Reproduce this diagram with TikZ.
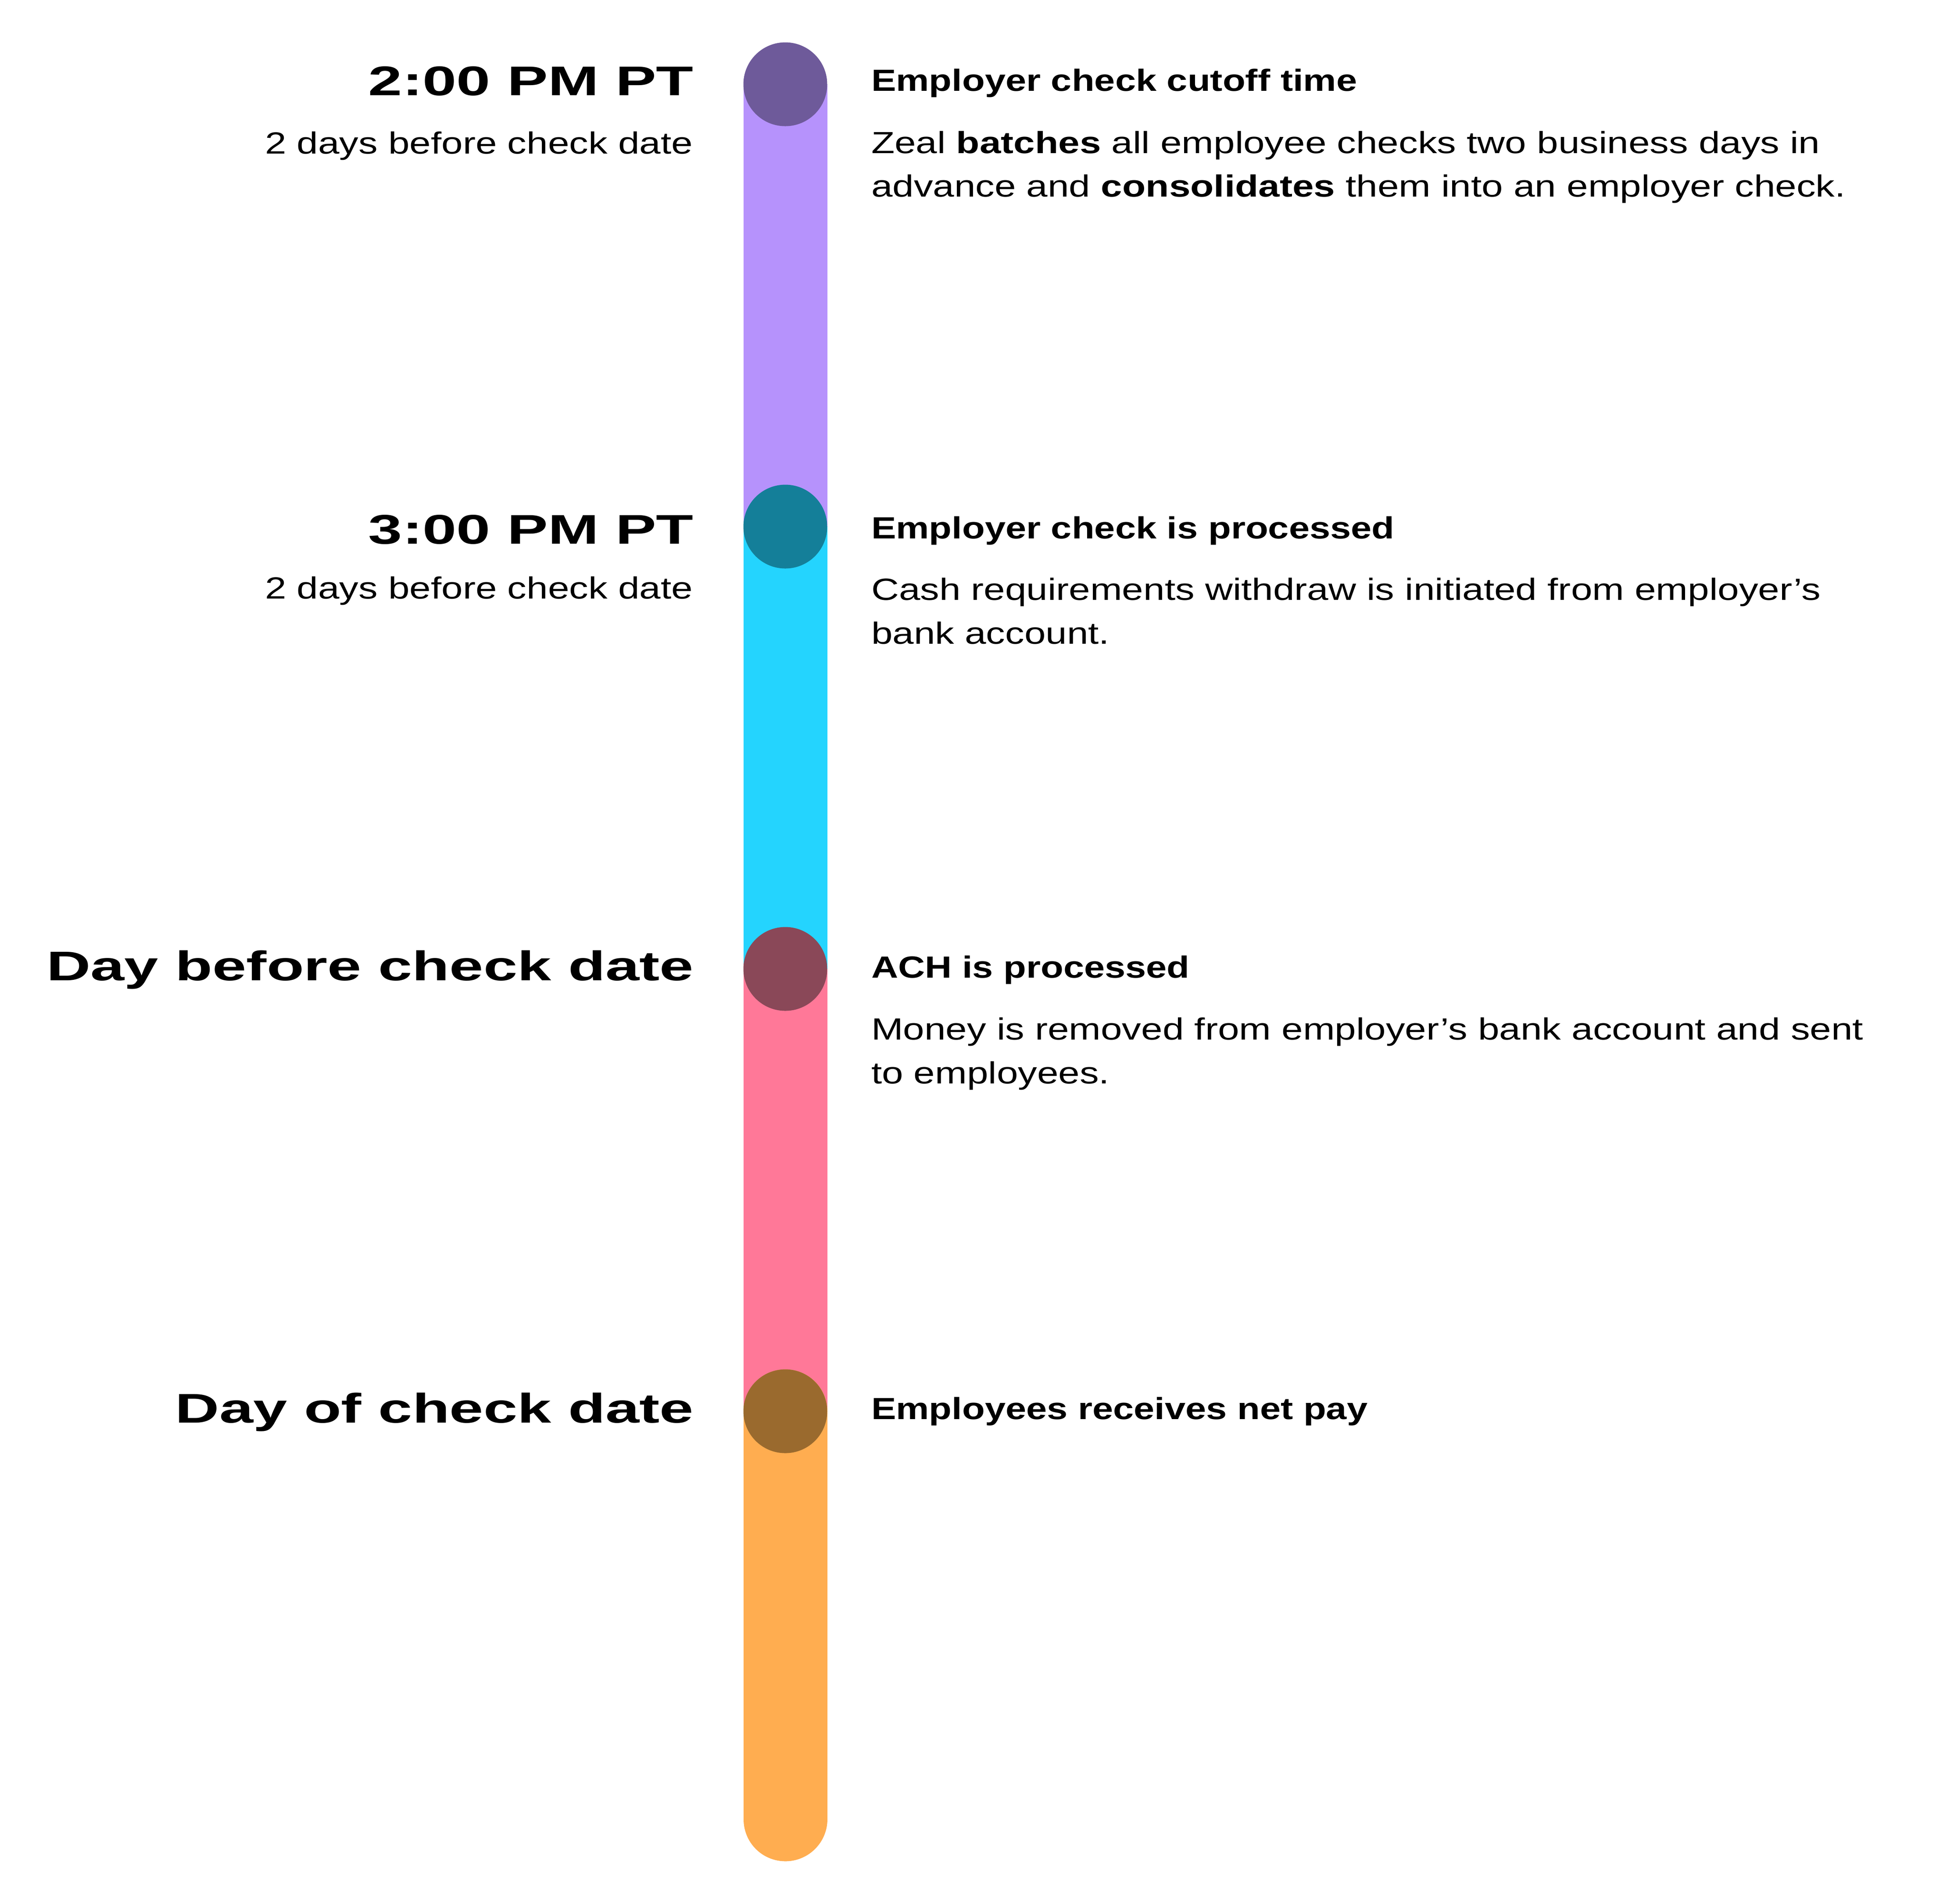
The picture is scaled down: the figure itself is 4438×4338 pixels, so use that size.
\documentclass[tikz,border=0pt]{standalone}
\usepackage{fontspec}
\setmainfont{Liberation Sans}
\newfontfamily\bigfont[FakeStretch=1.47]{Liberation Sans}
\newfontfamily\headfont[FakeStretch=1.215]{Liberation Sans}
\newfontfamily\bodyfont[FakeStretch=1.25]{Liberation Sans}
\definecolor{barpurple}{HTML}{B692FC}
\definecolor{dotpurple}{HTML}{6E5A9A}
\definecolor{barcyan}{HTML}{24D4FE}
\definecolor{dotteal}{HTML}{147F99}
\definecolor{barpink}{HTML}{FF7898}
\definecolor{dotmaroon}{HTML}{8A4858}
\definecolor{barorange}{HTML}{FFAD50}
\definecolor{dotbrown}{HTML}{9A6A2E}
\begin{document}
\begin{tikzpicture}[x=0.1pt,y=-0.1pt,
  bigtxt/.style={anchor=base east, inner sep=0pt, font=\bigfont\bfseries\fontsize{9.45}{11}\selectfont},
  subtxt/.style={anchor=base east, inner sep=0pt, font=\bodyfont\fontsize{6.98}{9.9}\selectfont},
  headtxt/.style={anchor=base west, inner sep=0pt, font=\headfont\bfseries\fontsize{6.98}{9.9}\selectfont},
  bodytxt/.style={anchor=base west, inner sep=0pt, font=\bodyfont\fontsize{6.98}{9.9}\selectfont},
  dot/.style={circle, inner sep=0pt, minimum size=19.1pt, draw=none},
  bar/.style={line width=19.1pt, line cap=butt}]
\useasboundingbox[fill=white] (0,0) rectangle (4438,4338);
\coordinate (p1) at (1790,192);
\coordinate (p2) at (1790,1200);
\coordinate (p3) at (1790,2208);
\coordinate (p4) at (1790,3216);
\coordinate (pend) at (1790,4146);
% bar segments
\draw[bar, barpurple] (p1) -- (p2);
\draw[bar, barcyan] (p2) -- (p3);
\draw[bar, barpink] (p3) -- (p4);
\draw[bar, barorange, line cap=round] (p4) -- (pend);
% dots
\node[dot, fill=dotpurple] (d1) at (p1) {};
\node[dot, fill=dotteal] (d2) at (p2) {};
\node[dot, fill=dotmaroon] (d3) at (p3) {};
\node[dot, fill=dotbrown] (d4) at (p4) {};
% block 1
\node[bigtxt] (t1) at (1583,217) {2:00 PM PT};
\node[subtxt] (s1) at (1581,350) {2 days before check date};
\node[headtxt] (h1) at (1984,207) {Employer check cutoff time};
\node[bodytxt] (b1a) at (1984,349) {Zeal \textbf{batches} all employee checks two business days in};
\node[bodytxt] (b1b) at (1984,448) {advance and \textbf{consolidates} them into an employer check.};
% block 2
\node[bigtxt] (t2) at (1583,1239) {3:00 PM PT};
\node[subtxt] (s2) at (1581,1364) {2 days before check date};
\node[headtxt] (h2) at (1984,1227) {Employer check is processed};
\node[bodytxt] (b2a) at (1984,1367) {Cash requirements withdraw is initiated from employer’s};
\node[bodytxt] (b2b) at (1984,1467) {bank account.};
% block 3
\node[bigtxt] (t3) at (1583,2234) {Day before check date};
\node[headtxt] (h3) at (1984,2228) {ACH is processed};
\node[bodytxt] (b3a) at (1984,2369) {Money is removed from employer’s bank account and sent};
\node[bodytxt] (b3b) at (1984,2469) {to employees.};
% block 4
\node[bigtxt] (t4) at (1583,3242) {Day of check date};
\node[headtxt] (h4) at (1984,3234) {Employees receives net pay};
\end{tikzpicture}
\end{document}
